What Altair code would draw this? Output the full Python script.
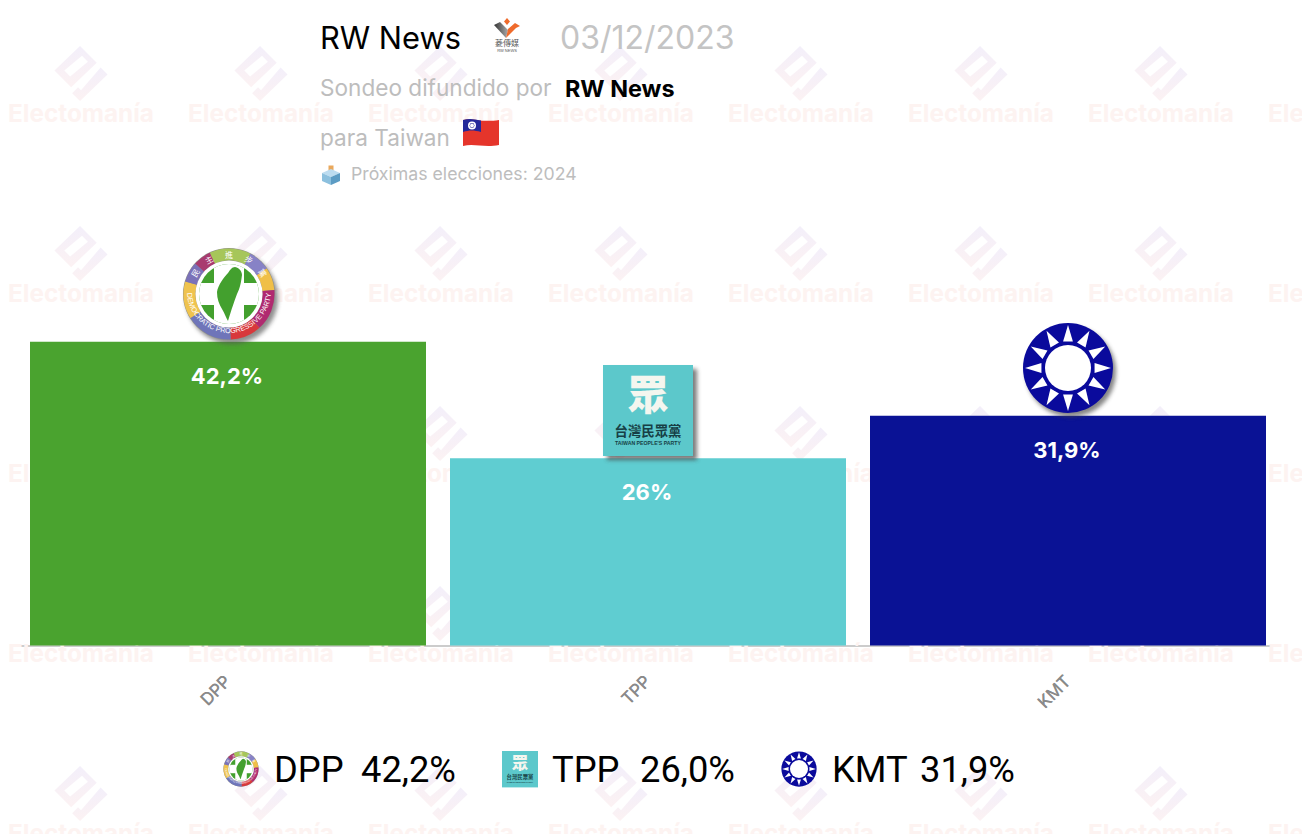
import math
import urllib.parse
import altair as alt
import pandas as pd

parties = ["DPP", "TPP", "KMT"]
values = [42.2, 26.0, 31.9]
bar_labels = ["42,2%", "26%", "31,9%"]
legend_values = ["42,2%", "26,0%", "31,9%"]
colors = ["#4aa32f", "#5fcdd1", "#0a1295"]

OX = OY = 8
FONT = "Inter"


def uri(svg):
    return "data:image/svg+xml," + urllib.parse.quote(svg)


def shadow_defs():
    return ('<defs><filter id="s" x="-30%" y="-30%" width="160%" height="160%">'
            '<feGaussianBlur stdDeviation="2.2"/></filter></defs>')


def arc(r, a0, a1):
    p0 = (r * math.cos(math.radians(a0)), r * math.sin(math.radians(a0)))
    p1 = (r * math.cos(math.radians(a1)), r * math.sin(math.radians(a1)))
    return f"M{p0[0]:.2f} {p0[1]:.2f}A{r} {r} 0 {1 if a1 - a0 > 180 else 0} 1 {p1[0]:.2f} {p1[1]:.2f}"


def dpp_logo(shadow=True):
    segs = [(-115, -62, "#a6c65a"), (-62, -34, "#8782c6"), (-34, -5, "#f0bf48"),
            (-5, 48, "#b02a70"), (48, 88, "#d8383c"), (88, 148, "#6f75b9"),
            (148, 196, "#efc34e"), (196, 222, "#7b72b8"), (222, 245, "#a93a6f")]
    s = '<svg xmlns="http://www.w3.org/2000/svg" width="120" height="120" viewBox="-60 -60 120 120">'
    s += shadow_defs()
    if shadow:
        s += '<circle cx="3" cy="4" r="46" fill="#555" opacity=".65" filter="url(#s)"/>'
    s += '<circle r="46" fill="#8f8f88"/>'
    for a0, a1, c in segs:
        s += f'<path d="{arc(39.5, a0, a1)}" fill="none" stroke="{c}" stroke-width="12"/>'
    s += '<circle r="33.5" fill="#fff"/>'
    s += '<clipPath id="c"><circle r="30"/></clipPath><g clip-path="url(#c)"><rect x="-31" y="-31" width="62" height="62" fill="#43a02e"/>'
    s += '<rect x="-15" y="-34" width="30" height="68" fill="#fff"/><rect x="-34" y="-11" width="68" height="22" fill="#fff"/></g>'
    s += ('<path d="M6 -27 C11 -26 13 -22 13 -19 C12 -11 11 -6 8 0 C5 8 3 14 -1 27 '
          'C-3 24 -4 20 -7 15 C-10 10 -12 5 -12 -2 C-11 -9 -5 -17 -1 -21 C1 -24 3 -27 6 -27Z" fill="#43a02e"/>')
    s += '<path id="bp" d="M-42 -3 A42 42 0 1 0 42 -3" fill="none"/>'
    s += ('<text font-family="Liberation Sans" font-size="7.2" fill="#fff">'
          '<textPath href="#bp" startOffset="2">DEMOCRATIC PROGRESSIVE PARTY</textPath></text>')
    for ang, ch in [(-58, "民"), (-30, "主"), (0, "進"), (30, "步"), (58, "黨")]:
        x = 39.5 * math.sin(math.radians(ang))
        y = -39.5 * math.cos(math.radians(ang))
        s += (f'<text x="{x:.1f}" y="{y + 3:.1f}" font-family="Noto Sans CJK TC" font-size="8" fill="#fff" '
              f'text-anchor="middle" transform="rotate({ang} {x:.1f} {y:.1f})">{ch}</text>')
    return uri(s + "</svg>")


def tpp_logo(shadow=True):
    s = '<svg xmlns="http://www.w3.org/2000/svg" width="120" height="120" viewBox="-60 -60 120 120">'
    s += shadow_defs()
    if shadow:
        s += '<rect x="-41" y="-41" width="90" height="91" fill="#444" opacity=".7" filter="url(#s)"/>'
    s += '<rect x="-45" y="-45" width="90" height="91" fill="#5cc8cb"/>'
    s += ('<text x="0" y="0" font-family="Noto Sans CJK TC" font-weight="900" font-size="41" fill="#f4f6ef" '
          'text-anchor="middle">眾</text>')
    s += ('<text x="0" y="26" font-family="Noto Sans CJK TC" font-weight="700" font-size="13.4" fill="#173f45" '
          'text-anchor="middle">台灣民眾黨</text>')
    s += ('<text x="0" y="34.5" font-family="Liberation Sans" font-weight="700" font-size="5.2" fill="#173f45" '
          'text-anchor="middle">TAIWAN PEOPLE\'S PARTY</text>')
    return uri(s + "</svg>")


def kmt_logo(shadow=True):
    s = '<svg xmlns="http://www.w3.org/2000/svg" width="120" height="120" viewBox="-60 -60 120 120">'
    s += shadow_defs()
    if shadow:
        s += '<circle cx="3" cy="4" r="45" fill="#444" opacity=".65" filter="url(#s)"/>'
    s += '<circle r="45" fill="#0a0a9c"/>'
    for k in range(12):
        a = math.radians(k * 30 - 90)
        w = math.radians(10.5)
        pts = [(43 * math.cos(a), 43 * math.sin(a)),
               (27 * math.cos(a - w), 27 * math.sin(a - w)),
               (27 * math.cos(a + w), 27 * math.sin(a + w))]
        s += '<polygon fill="#fff" points="' + " ".join(f"{x:.2f},{y:.2f}" for x, y in pts) + '"/>'
    s += '<circle r="26" fill="#0a0a9c"/><circle r="23" fill="#fff"/>'
    return uri(s + "</svg>")


def watermark():
    s = ('<svg xmlns="http://www.w3.org/2000/svg" width="56" height="57" viewBox="0 0 56 58">'
         '<defs><linearGradient id="g" x1="0" y1="0" x2="0" y2="1">'
         '<stop offset="0" stop-color="#f3effa"/><stop offset="1" stop-color="#fcf2f3"/></linearGradient></defs>'
         '<path fill="url(#g)" fill-rule="evenodd" d="M27 1 L44 18 L18 43 L1 26 Z '
         'M11 26 L17 32 L35 17 L29 11 Z"/>'
         '<path fill="url(#g)" d="M48 23 L55 30 L27 57 L19 49 L25 43 L28 46 Z"/></svg>')
    return uri(s)


def rw_logo():
    s = ('<svg xmlns="http://www.w3.org/2000/svg" width="30" height="38" viewBox="0 0 30 38">'
         '<defs><linearGradient id="a" x1="0" x2="1"><stop offset="0" stop-color="#333"/>'
         '<stop offset="1" stop-color="#aaa"/></linearGradient></defs>'
         '<path fill="#ef6b2c" d="M15 2 L18 5.5 L15 9 L12 5.5Z"/>'
         '<path fill="url(#a)" d="M2 9 L8 6 L16 14 L14 22 Z"/>'
         '<path fill="#ef6b2c" d="M14 22 L16 13 L23 7 L28 10 L24 12 Z"/>'
         '<text x="15" y="30" font-family="Noto Sans CJK TC" font-size="8" fill="#555" text-anchor="middle">菱傳媒</text>'
         '<text x="15" y="36" font-family="Liberation Sans" font-size="4" fill="#555" text-anchor="middle">RW NEWS</text></svg>')
    return uri(s)


def flag():
    s = ('<svg xmlns="http://www.w3.org/2000/svg" width="38" height="32" viewBox="0 0 38 32">'
         '<path fill="#e5352b" d="M1 3 C10 0 18 6 37 3 L37 28 C22 31 12 26 1 29Z"/>'
         '<path fill="#23299a" d="M1 3 C7 1 12 2 19 3.5 L19 15 C12 13 7 13 1 15Z"/>'
         '<circle cx="10" cy="8.5" r="4" fill="#fff"/><circle cx="10" cy="8.5" r="2.4" fill="#23299a"/>'
         '<circle cx="10" cy="8.5" r="1.9" fill="#fff"/></svg>')
    return uri(s)


def ballot():
    s = ('<svg xmlns="http://www.w3.org/2000/svg" width="20" height="20" viewBox="0 0 20 20">'
         '<rect x="7.5" y="0.5" width="5" height="7" fill="#e9a85c"/>'
         '<path fill="#bcdcf0" d="M10 4 L19 8 L10 12 L1 8Z"/>'
         '<path fill="#8cc0de" d="M1 8 L10 12 L10 20 L1 16Z"/>'
         '<path fill="#5c9cc4" d="M19 8 L10 12 L10 20 L19 16Z"/></svg>')
    return uri(s)


def txt(text, x, y, size, color, weight=400, font=FONT, align="left"):
    return alt.Chart(pd.DataFrame({"t": [text]})).mark_text(
        font=font, fontSize=size, fontWeight=weight, color=color, align=align, baseline="alphabetic"
    ).encode(x=alt.value(x - OX), y=alt.value(y - OY), text="t:N")


def img(url, cx, cy, w, h):
    return alt.Chart(pd.DataFrame({"u": [url]})).mark_image(width=w, height=h).encode(
        x=alt.value(cx - OX), y=alt.value(cy - OY), url="u:N")


# Watermark grid
wm_text = pd.DataFrame([{"x": 81 + 180 * i - OX, "y": 122 + 180 * j - OY, "t": "Electomanía"}
                        for i in range(8) for j in range(5)])
wm_logo = pd.DataFrame([{"x": 81 + 180 * i - OX, "y": 73.5 + 180 * j - OY, "u": watermark()}
                        for i in range(8) for j in range(5)])
wm_layer_t = alt.Chart(wm_text).mark_text(font=FONT, fontSize=24.3, fontWeight=700, color="#fdf3f1",
                                          baseline="alphabetic").encode(
    x=alt.X("x:Q", scale=None, axis=None), y=alt.Y("y:Q", scale=None, axis=None), text="t:N")
wm_layer_l = alt.Chart(wm_logo).mark_image(width=56, height=57).encode(
    x=alt.X("x:Q", scale=None, axis=None), y=alt.Y("y:Q", scale=None, axis=None), url="u:N")

df = pd.DataFrame({"party": parties, "value": values, "label": bar_labels, "color": colors})
x_enc = alt.X("party:N", sort=parties, title=None,
              scale=alt.Scale(domain=parties, range=[10, 1270], paddingInner=24 / 420, paddingOuter=12 / 420),
              axis=alt.Axis(orient="bottom", offset=-188.5, labelAngle=-45, labelFontSize=17, labelColor="#8a8a8a",
                            labelFont=FONT, labelAlign="right", labelBaseline="middle", labelPadding=33,
                            ticks=False, domainColor="#bbbbbb", grid=False))
y_enc = alt.Y("value:Q", axis=None, scale=alt.Scale(domain=[0, 50], range=[637.5, 277.5]))

bars = alt.Chart(df).mark_bar().encode(x=x_enc, y=y_enc, color=alt.Color("color:N", scale=None))
bar_text = alt.Chart(df).mark_text(font=FONT, fontSize=22, fontWeight=700, color="#ffffff",
                                   baseline="alphabetic", dy=42, dx=-1).encode(x=x_enc, y=y_enc, text="label:N")

layers = [wm_layer_l, wm_layer_t, bars, bar_text,
          img(dpp_logo(), 229, 294, 120, 120), img(tpp_logo(), 648, 410, 120, 120), img(kmt_logo(), 1068, 368, 120, 120),
          txt("RW News", 320, 49, 30.8, "#000000"),
          img(rw_logo(), 507, 35, 30, 38),
          txt("03/12/2023", 560, 49, 32, "#c4c4c4"),
          txt("Sondeo difundido por", 320, 96, 22.6, "#bdbdbd"),
          txt("RW News", 565, 97, 23.4, "#000000", weight=700),
          txt("para Taiwan", 320, 146, 22.6, "#bdbdbd"),
          img(flag(), 481, 133, 38, 32),
          img(ballot(), 331, 175, 20, 20),
          txt("Próximas elecciones: 2024", 351, 180, 17.7, "#bdbdbd")]

legend_icons = [(dpp_logo(False), 241, 769, 46), (tpp_logo(False), 520, 769, 48), (kmt_logo(False), 799, 769, 47)]
for u, cx, cy, w in legend_icons:
    layers.append(img(u, cx, cy, w, w))
for p, v, xp, xv in zip(parties, legend_values, [274, 552, 832], [361, 640, 920]):
    layers.append(txt(p, xp, 782, 36.3, "#000000", font="Roboto"))
    layers.append(txt(v, xv, 782, 36.3, "#000000", font="Roboto"))

chart = alt.layer(*layers).resolve_scale(x="independent", y="independent", color="independent").properties(
    width=1294, height=826, padding=0, autosize=alt.AutoSizeParams(type="none"), background="#ffffff"
).configure_view(stroke=None)

chart.save("out.html", embed_options={"renderer": "svg", "actions": False})
